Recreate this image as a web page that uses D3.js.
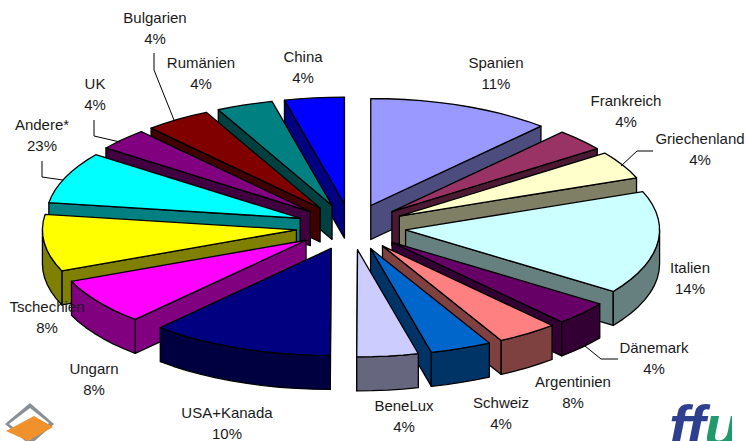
<!DOCTYPE html>
<html><head><meta charset="utf-8">
<style>html,body{margin:0;padding:0;background:#fff}svg{display:block}text{font-family:"Liberation Sans",Arial,sans-serif;fill:#1a1a1a}</style>
<script src="https://cdn.jsdelivr.net/npm/d3@7"></script></head><body>
<svg id="c" width="746" height="441"></svg>
<script>
// Names and printed percentages, clockwise from 12 o'clock
const categories=["Spanien","Frankreich","Griechenland","Italien","Dänemark","Argentinien","Schweiz","BeneLux","USA+Kanada","Ungarn","Tschechien","Andere*","UK","Bulgarien","Rumänien","China"];
const printedLabels=["11%","4%","4%","14%","4%","8%","4%","4%","10%","8%","8%","23%","4%","4%","4%","4%"];
const sliceShares=[11.7,3.3,4.2,15.6,3.6,3.9,3.9,3.9,11.7,7.0,8.6,7.8,3.3,4.2,3.6,3.8];
const topColors=["#9999FF","#993366","#FFFFCC","#CCFFFF","#660066","#FF8080","#0066CC","#CCCCFF","#000080","#FF00FF","#FFFF00","#00FFFF","#800080","#800000","#008080","#0000FF"];
const wallColors=["#4C4C7F","#4C1933","#7F7F66","#667F7F","#330033","#7F4040","#003366","#66667F","#000040","#800080","#808000","#008080","#400040","#400000","#004040","#000080"];
const labelX=[496,626,700,690,654,573,501,404,227,94,47,42,95,155,201,303];
const labelY=[68,106,144,273,353,387,408,411,418,374,312,130,89,23,68,62];
const leaders=[
 {at:"Bulgarien",pts:[[154,53],[154,70],[174,120]]},
 {at:"UK",pts:[[94,120],[94,136],[120,142]]},
 {at:"Andere*",pts:[[42,161],[42,177],[63,180]]},
 {at:"Griechenland",pts:[[653,151],[637,151],[621,166]]},
 {at:"Dänemark",pts:[[585,346],[601,359],[618,359]]}
];
const svg=d3.select("#c");
const W=746,H=441,cx=351,cy=227,rx=254,ry=107,depth=34,ex=55,ey=23;
const pie=d3.pie().sort(null).value(d=>d.share);
const arcs=pie(categories.map((name,i)=>({name,share:sliceShares[i],i})));
const scaleX=d3.scaleLinear().domain([-1,1]).range([-rx,rx]);
const scaleY=d3.scaleLinear().domain([-1,1]).range([ry,-ry]);
const line=d3.line();
function rim(a,o,dy){return [o[0]+scaleX(Math.sin(a)),o[1]+scaleY(Math.cos(a))+(dy||0)];}
function samples(a0,a1,step){const n=Math.max(1,Math.ceil((a1-a0)/step));return d3.range(n+1).map(k=>a0+(a1-a0)*k/n);}
const step=Math.PI/45;
const order=arcs.slice().sort((a,b)=>Math.cos((b.startAngle+b.endAngle)/2)-Math.cos((a.startAngle+a.endAngle)/2));
const g=svg.append("g").attr("stroke","#000").attr("stroke-width",1.3).attr("stroke-linejoin","round");
order.forEach(s=>{
  const a0=s.startAngle,a1=s.endAngle,mid=(a0+a1)/2,i=s.data.i;
  const o=[cx+ex*Math.sin(mid),cy-ey*Math.cos(mid)];
  const top=[o,...samples(a0,a1,step).map(a=>rim(a,o))];
  const e=mid<Math.PI?a1:a0;
  const p=rim(e,o);
  g.append("path").attr("d",line([o,p,[p[0],p[1]+depth],[o[0],o[1]+depth]])+"Z").attr("fill",wallColors[i]);
  const lo=Math.max(a0,Math.PI/2),hi=Math.min(a1,Math.PI*1.5);
  if(hi>lo){
    const as=samples(lo,hi,step);
    const pts=as.map(a=>rim(a,o)).concat(as.slice().reverse().map(a=>rim(a,o,depth)));
    g.append("path").attr("d",line(pts)+"Z").attr("fill",wallColors[i]);
  }
  g.append("path").attr("d",line(top)+"Z").attr("fill",topColors[i]);
});
svg.append("g").attr("fill","none").attr("stroke","#000").attr("stroke-width",1)
  .selectAll("path").data(leaders).join("path").attr("d",d=>line(d.pts));
const lab=svg.append("g").attr("font-size",15).attr("text-anchor","middle");
categories.forEach((c,i)=>{
  lab.append("text").attr("x",labelX[i]).attr("y",labelY[i]).text(c);
  lab.append("text").attr("x",labelX[i]).attr("y",labelY[i]+21).text(printedLabels[i]);
});
// Logos in the bottom corners
const lg=svg.append("g");
lg.append("path").attr("d","M30,403 L54,424 L30,445 L5,424Z").attr("fill","#8a8f96");
lg.append("path").attr("d","M30,408 L49,423 L30,440 L9,424Z").attr("fill","#fff");
lg.append("path").attr("d","M34,416 L53,427 L28,441 L6,431Z").attr("fill","#F0922B");
svg.append("defs").append("clipPath").attr("id","lc").append("rect").attr("x",660).attr("y",395).attr("width",72).attr("height",46);
const ft=svg.append("g").attr("clip-path","url(#lc)").append("text").attr("x",669).attr("y",446).attr("font-size",58).attr("font-weight",700).attr("font-style","italic").attr("letter-spacing",-1);
ft.append("tspan").style("fill","#2F3F8F").text("ff");
ft.append("tspan").style("fill","#1F9A6A").text("u");
</script></body></html>
